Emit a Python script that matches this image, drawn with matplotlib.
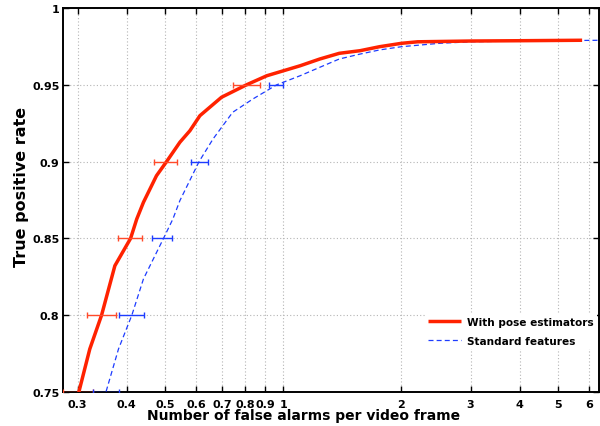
import matplotlib
matplotlib.use("Agg")
import matplotlib.pyplot as plt
from matplotlib.ticker import FixedLocator, FixedFormatter, NullLocator
import numpy as np

plt.rcParams['font.family'] = ['DejaVu Sans']
plt.rcParams['font.weight'] = 'bold'

# ---- data ----
red_x = [0.295, 0.302, 0.322, 0.345, 0.373, 0.409, 0.424, 0.441, 0.476, 0.505, 0.546, 0.579,
         0.614, 0.697, 0.807, 0.909, 1.105, 1.24, 1.39, 1.57, 1.76, 2.0, 2.2, 3.0, 4.0, 5.77]
red_y = [0.74, 0.75, 0.778, 0.80, 0.8322, 0.85, 0.8626, 0.8735, 0.8908, 0.90, 0.9126, 0.9201,
         0.9299, 0.9419, 0.95, 0.9559, 0.9624, 0.9668, 0.9705, 0.9722, 0.9748, 0.977, 0.978,
         0.9785, 0.9787, 0.979]
blue_x = [0.348, 0.354, 0.381, 0.412, 0.441, 0.496, 0.524, 0.546, 0.611, 0.663, 0.744, 0.838,
          0.963, 1.105, 1.24, 1.39, 1.57, 1.76, 2.0, 2.5, 3.0, 4.0, 6.5]
blue_y = [0.74, 0.75, 0.778, 0.80, 0.8236, 0.85, 0.8626, 0.8746, 0.90, 0.9147, 0.9321, 0.9408,
          0.95, 0.9559, 0.9614, 0.9668, 0.970, 0.9727, 0.9748, 0.977, 0.978, 0.9785, 0.979]

err_y = [0.75, 0.80, 0.85, 0.90, 0.95]
red_lo = [0.275, 0.317, 0.381, 0.469, 0.744]
red_hi = [0.328, 0.375, 0.437, 0.537, 0.872]
blue_lo = [0.328, 0.383, 0.465, 0.584, 0.92]
blue_hi = [0.383, 0.443, 0.522, 0.644, 1.0]

x_ticks = [0.3, 0.4, 0.5, 0.6, 0.7, 0.8, 0.9, 1, 2, 3, 4, 5, 6]
x_ticklabels = ['0.3', '0.4', '0.5', '0.6', '0.7', '0.8', '0.9', '1', '2', '3', '4', '5', '6']
y_ticks = [0.75, 0.8, 0.85, 0.9, 0.95, 1]
y_ticklabels = ['0.75', '0.8', '0.85', '0.9', '0.95', '1']

labels = ['With pose estimators', 'Standard features']

RED = '#ff2200'
RED_ERR = '#ff4a2a'
BLUE = '#1d3cff'

fig = plt.figure(figsize=(6.0, 4.27), dpi=100)
ax = fig.add_axes([63/600, 1 - 393/427, 536/600, 384/427])

ax.set_xscale('log')
ax.set_xlim(0.2752, 6.37)
ax.set_ylim(0.75, 1.0)

ax.grid(True, which='major', linestyle=(0, (1, 2)), color='#b5b5b5', linewidth=0.8)
ax.set_axisbelow(True)

l1, = ax.plot(red_x, red_y, color=RED, lw=2.5, solid_capstyle='butt', solid_joinstyle='round', zorder=4)
l2, = ax.plot(blue_x, blue_y, color=BLUE, lw=0.9, linestyle=(0, (4, 2.5)), zorder=3)

def draw_err(lo, hi, color):
    lo = np.array(lo); hi = np.array(hi)
    ctr = np.sqrt(lo * hi)
    ax.errorbar(ctr, err_y, xerr=[ctr - lo, hi - ctr], fmt='none', ecolor=color,
                elinewidth=1.0, capsize=2.3, capthick=1.0, zorder=5)

draw_err(red_lo, red_hi, RED_ERR)
draw_err(blue_lo, blue_hi, BLUE)

ax.xaxis.set_major_locator(FixedLocator(x_ticks))
ax.xaxis.set_major_formatter(FixedFormatter(x_ticklabels))
ax.xaxis.set_minor_locator(NullLocator())
ax.yaxis.set_major_locator(FixedLocator(y_ticks))
ax.yaxis.set_major_formatter(FixedFormatter(y_ticklabels))

ax.tick_params(axis='both', which='major', direction='in', length=4, width=1.0,
               top=True, right=True, labelsize=8)
ax.tick_params(axis='x', pad=5.0)
ax.tick_params(axis='y', pad=2.5)
for lab in ax.get_xticklabels() + ax.get_yticklabels():
    lab.set_fontweight('bold')

for s in ax.spines.values():
    s.set_linewidth(1.4)

fig.text(304/600, 1 - 420/427, 'Number of false alarms per video frame', ha='center', va='baseline',
         fontsize=10, fontweight='bold')
fig.text(21.5/600, 1 - 187/427, 'True positive rate', ha='center', va='center', rotation=90,
         fontsize=11.5, fontweight='bold')

leg = ax.legend([l1, l2], labels, loc='upper left', bbox_to_anchor=(425/600, 1 - 315/427),
                bbox_transform=fig.transFigure, frameon=True, fancybox=False, borderpad=0.3,
                handlelength=3.1, handletextpad=0.6, labelspacing=0.85, borderaxespad=0,
                prop={'size': 7.6, 'weight': 'bold'})
leg.get_frame().set_edgecolor('none')
leg.get_frame().set_facecolor('white')
leg.get_frame().set_alpha(1.0)

fig.savefig('out.png', dpi=100)
